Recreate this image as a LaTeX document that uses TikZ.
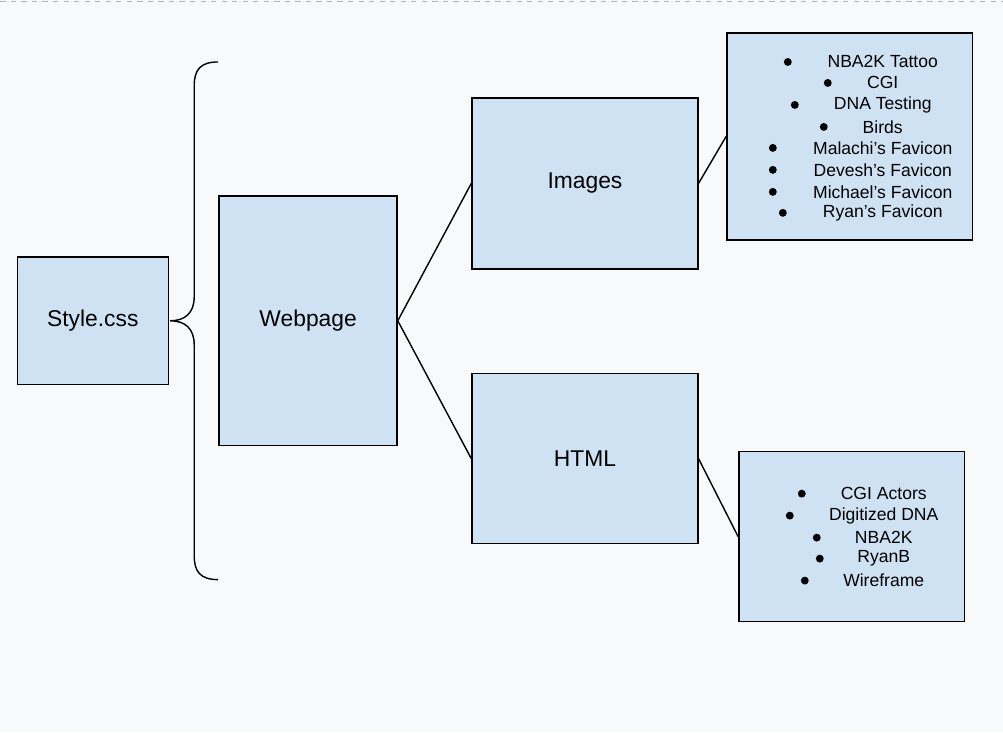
\documentclass[tikz,border=0pt]{standalone}
\usepackage{fontspec}
\setmainfont{Liberation Sans}
\usetikzlibrary{positioning}
\definecolor{boxblue}{HTML}{CFE2F3}
\definecolor{pagebg}{HTML}{F8F9FA}

\begin{document}
\begin{tikzpicture}[
		x=0.02cm, y=-0.02cm,
		box/.style = {draw, fill=boxblue, thick, inner sep=0pt, font=\fontsize{13}{15}\selectfont},
		item/.style = {font=\fontsize{10}{12}\selectfont, inner sep=0pt},
		dot/.style = {circle, fill, inner sep=0pt, minimum size=4.5pt},
		link/.style = {thick}
	]
	\fill[pagebg] (0,0) rectangle (1003,733);
	\draw[gray!60, dashed] (0,1) -- (1003,1);
	\useasboundingbox (0,0) rectangle (1003,733);

	% boxes
	\node(style)[box, minimum width=151*0.02cm, minimum height=128*0.02cm] at (92.5,321) {Style.css};
	\node(webpage)[box, minimum width=178*0.02cm, minimum height=250*0.02cm] at (308,321) {Webpage};
	\node(images)[box, minimum width=226*0.02cm, minimum height=171*0.02cm] at (585,183.5) {Images};
	\node(html)[box, minimum width=226*0.02cm, minimum height=170*0.02cm] at (585,459) {HTML};
	\node(imglist)[box, minimum width=246*0.02cm, minimum height=207*0.02cm] at (850,136.5) {};
	\node(htmllist)[box, minimum width=226*0.02cm, minimum height=170*0.02cm] at (852,537) {};

	% brace
	\draw[thick] (218,62) .. controls (200,62) and (194,70) .. (194,86) -- (194,297)
		.. controls (194,313) and (185,321) .. (170,321)
		.. controls (185,321) and (194,329) .. (194,345) -- (194,556)
		.. controls (194,572) and (200,580) .. (218,580);

	% connectors
	\draw[link] (webpage.east) -- (images.west);
	\draw[link] (webpage.east) -- (html.west);
	\draw[link] (images.east) -- (imglist.west);
	\draw[link] (html.east) -- (htmllist.west);

	% image list
	\foreach \t/\y/\b in {NBA2K Tattoo/62/788, CGI/83/828, DNA Testing/105/795, Birds/127/824,
		Malachi’s Favicon/148/773, Devesh’s Favicon/170/773, Michael’s Favicon/192/773, Ryan’s Favicon/213/783}{
		\node[item] at (883,\y) {\t};
		\node[dot] at (\b,\y) {};
	}

	% html list
	\foreach \t/\y/\b in {CGI Actors/494/802, Digitized DNA/516/790, NBA2K/538/817, RyanB/559/820, Wireframe/581/805}{
		\node[item] at (884,\y) {\t};
		\node[dot] at (\b,\y) {};
	}
\end{tikzpicture}
\end{document}
